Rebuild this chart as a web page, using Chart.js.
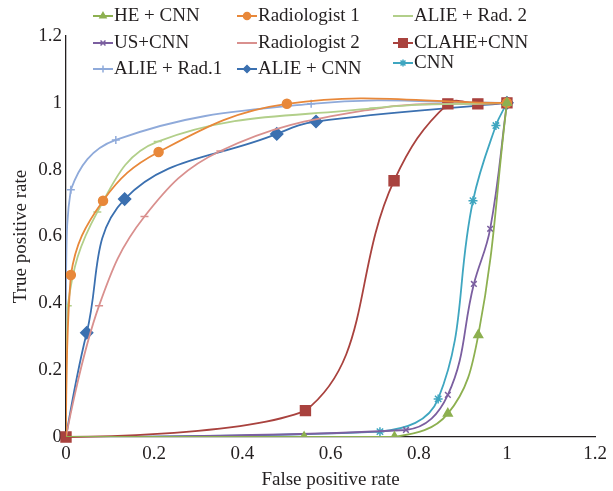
<!DOCTYPE html>
<html>
<head>
<meta charset="utf-8">
<script src="https://cdn.jsdelivr.net/npm/chart.js@4/dist/chart.umd.min.js"></script>
<style>
  body { margin: 0; background: #fff; }
  #wrap { width: 613px; height: 491px; }
</style>
</head>
<body>
<div id="wrap"><canvas id="chart" width="613" height="491"></canvas></div>
<script>
// ROC points (false positive rate, true positive rate)
const heCnnFpr = [0, 0.54, 0.745, 0.866, 0.935, 1];
const heCnnTpr = [0, 0, 0, 0.07, 0.305, 1];

const usCnnFpr = [0, 0.771, 0.866, 0.925, 0.962, 1];
const usCnnTpr = [0, 0.021, 0.126, 0.458, 0.623, 1];

const alieRad1Fpr = [0, 0, 0.011, 0.113, 0.556, 1];
const alieRad1Tpr = [0, 0.477, 0.74, 0.889, 0.997, 1];

const rad1Fpr = [0, 0.011, 0.084, 0.21, 0.501, 1];
const rad1Tpr = [0, 0.485, 0.707, 0.853, 0.997, 1];

const rad2Fpr = [0, 0.075, 0.178, 0.35, 0.69, 1];
const rad2Tpr = [0, 0.393, 0.66, 0.856, 0.98, 1];

const alieCnnFpr = [0, 0.047, 0.133, 0.478, 0.567, 1];
const alieCnnTpr = [0, 0.312, 0.712, 0.907, 0.944, 1];

const alieRad2Fpr = [0, 0.004, 0.071, 0.208, 0.697, 1];
const alieRad2Tpr = [0, 0.393, 0.673, 0.884, 0.984, 1];

const claheCnnFpr = [0, 0.543, 0.744, 0.866, 0.934, 1];
const claheCnnTpr = [0, 0.079, 0.767, 0.997, 0.997, 1];

const cnnFpr = [0, 0.712, 0.844, 0.923, 0.975, 1];
const cnnTpr = [0, 0.016, 0.114, 0.707, 0.932, 1];

const xTicks = [0, 0.2, 0.4, 0.6, 0.8, 1, 1.2];
const yTicks = [0, 0.2, 0.4, 0.6, 0.8, 1, 1.2];

const textColor = '#231F20';
const serif = '"Liberation Serif", "DejaVu Serif", serif';

function pts(xs, ys) {
  return xs.map((x, i) => ({ x: x, y: ys[i] }));
}

// hide the origin marker for everything except the square series
function radii(r, showFirst) {
  return heCnnFpr.map((_, i) => (i === 0 && !showFirst) ? 0 : r);
}

function series(label, xs, ys, color, style, r, extra) {
  return Object.assign({
    label: label,
    data: pts(xs, ys),
    tension: 0.4,
    fill: false,
    borderColor: color,
    backgroundColor: color,
    borderWidth: 1.8,
    pointStyle: style,
    pointRadius: radii(r, false),
    pointBorderColor: color,
    pointBackgroundColor: color,
    pointBorderWidth: 1.5,
    legendRow: 0,
    legendCol: 0
  }, extra || {});
}

const datasets = [
  series('HE + CNN', heCnnFpr, heCnnTpr, '#8DB050', 'triangle', 5, { legendRow: 0, legendCol: 0 }),
  series('Radiologist 1', rad1Fpr, rad1Tpr, '#E8883A', 'circle', 4.5, { legendRow: 0, legendCol: 1 }),
  series('ALIE + Rad. 2', alieRad2Fpr, alieRad2Tpr, '#B2CF8A', 'line', 4, { legendRow: 0, legendCol: 2 }),
  series('US+CNN', usCnnFpr, usCnnTpr, '#7B5FA0', 'crossRot', 4, { legendRow: 1, legendCol: 0 }),
  series('Radiologist 2', rad2Fpr, rad2Tpr, '#D9908E', 'line', 4, { legendRow: 1, legendCol: 1 }),
  series('CLAHE+CNN', claheCnnFpr, claheCnnTpr, '#A9423E', 'rect', 7,
    { legendRow: 1, legendCol: 2, pointRadius: radii(7, true), clip: false }),
  series('ALIE + Rad.1', alieRad1Fpr, alieRad1Tpr, '#8FAADA', 'cross', 4, { legendRow: 2, legendCol: 0 }),
  series('ALIE + CNN', alieCnnFpr, alieCnnTpr, '#3B70B0', 'rectRot', 6, { legendRow: 2, legendCol: 1 }),
  series('CNN', cnnFpr, cnnTpr, '#3FA6C0', 'star', 4.5, { legendRow: 2, legendCol: 2 })
];

// Excel-style smoothing: the curve leaves its first point without a lead-in tangent
const excelEnds = {
  id: 'excelEnds',
  beforeDatasetDraw(chart, args) {
    const line = args.meta.dataset;
    if (!line || !line.points || !line.points.length) return;
    line.updateControlPoints(chart.chartArea, 'x');
    const p0 = line.points[0];
    p0.cp2x = p0.x;
    p0.cp2y = p0.y;
    line._path = undefined;
  }
};

// legend laid out as a 3x3 grid like the original
const legendCols = [93, 237, 393];
const legendRows = [16, 43, 69];

const gridLegend = {
  id: 'gridLegend',
  afterDraw(chart) {
    const ctx = chart.ctx;
    ctx.save();
    ctx.font = '19px ' + serif;
    ctx.textBaseline = 'middle';
    chart.data.datasets.forEach(ds => {
      const x = legendCols[ds.legendCol];
      let y = legendRows[ds.legendRow];
      if (ds.legendRow === 2 && ds.legendCol === 2) y = 63;
      ctx.strokeStyle = ds.borderColor;
      ctx.lineWidth = 2;
      ctx.beginPath();
      ctx.moveTo(x, y);
      ctx.lineTo(x + 20, y);
      ctx.stroke();
      ctx.fillStyle = ds.borderColor;
      ctx.lineWidth = 1.5;
      Chart.helpers.drawPoint(ctx, {
        pointStyle: ds.pointStyle,
        radius: ds.pointStyle === 'rect' ? 6 : 3.5,
        rotation: 0,
        borderWidth: 1.5
      }, x + 10, y);
      ctx.fillStyle = textColor;
      ctx.fillText(ds.label, x + 21, y);
    });
    ctx.restore();
  }
};

new Chart(document.getElementById('chart'), {
  type: 'line',
  data: { datasets: datasets },
  options: {
    responsive: false,
    animation: false,
    layout: { padding: { top: 36, right: 15, left: 0, bottom: 0 } },
    plugins: {
      legend: { display: false },
      tooltip: { enabled: false }
    },
    scales: {
      x: {
        type: 'linear',
        min: 0,
        max: 1.2,
        afterBuildTicks: s => { s.ticks = xTicks.map(v => ({ value: v })); },
        afterFit: s => { s.height = 54; },
        grid: { display: false, drawTicks: false },
        border: { display: true, color: '#231F20', width: 1.3 },
        ticks: { color: textColor, font: { family: serif, size: 19 }, padding: 6,
          maxRotation: 0, callback: v => String(+v.toFixed(1)) },
        title: { display: true, text: 'False positive rate', color: textColor,
          font: { family: serif, size: 19 }, padding: { top: 0, bottom: 0 } }
      },
      y: {
        type: 'linear',
        min: 0,
        max: 1.2,
        afterBuildTicks: s => { s.ticks = yTicks.map(v => ({ value: v })); },
        afterFit: s => { s.width = 66; },
        grid: { display: false, drawTicks: false },
        border: { display: true, color: '#231F20', width: 1.3 },
        ticks: { color: textColor, font: { family: serif, size: 19 }, padding: 4,
          callback: v => String(+v.toFixed(1)) },
        title: { display: true, text: 'True positive rate', color: textColor,
          font: { family: serif, size: 19 }, padding: { top: 10, bottom: 0 } }
      }
    }
  },
  plugins: [excelEnds, gridLegend]
});
</script>
</body>
</html>
